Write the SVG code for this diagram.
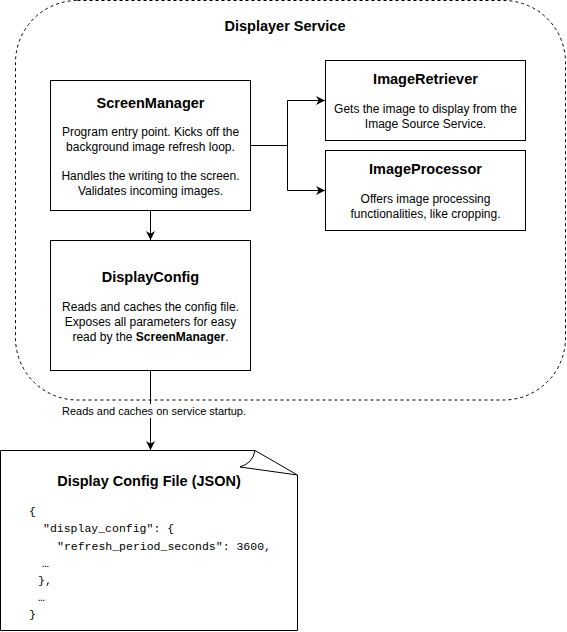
<svg xmlns="http://www.w3.org/2000/svg" width="567" height="632" viewBox="0 0 567 632">
<style>
.box{fill:#fff;stroke:#000;stroke-width:1}
.t{font-family:"Liberation Sans",Arial,sans-serif;font-size:14.5px;font-weight:bold;fill:#000;text-anchor:middle}
.b{font-family:"Liberation Sans",Arial,sans-serif;font-size:12px;fill:#000;text-anchor:middle}
.m{font-family:"Liberation Mono","Courier New",monospace;font-size:11.5px;fill:#000;white-space:pre}
.c{fill:none;stroke:#000;stroke-width:1}
</style>
<defs>
<marker id="arr" viewBox="0 0 10 10" refX="10" refY="5" markerWidth="9" markerHeight="9" markerUnits="userSpaceOnUse" orient="auto">
<path d="M0,0 L10,5 L0,10 L3,5 Z" fill="#000"/>
</marker>
</defs>
<g id="displayer-service">
<rect x="15.5" y="0.5" width="550" height="399.5" rx="62" ry="62" fill="#fff" stroke="#000" stroke-dasharray="3,3"/>
<text class="t" x="285" y="31">Displayer Service</text>
</g>
<g id="connectors">
<polyline class="c" points="250,145.5 287.5,145.5 287.5,100.5 325,100.5" marker-end="url(#arr)"/>
<polyline class="c" points="287.5,145.5 287.5,190.5 325,190.5" marker-end="url(#arr)"/>
<line class="c" x1="150.5" y1="210" x2="150.5" y2="240" marker-end="url(#arr)"/>
<line class="c" x1="150.5" y1="370" x2="150.5" y2="450" marker-end="url(#arr)"/>
<rect x="60" y="404" width="190" height="14" fill="#fff"/>
<text x="154" y="415" style="font-family:'Liberation Sans',Arial,sans-serif;font-size:11px;text-anchor:middle">Reads and caches on service startup.</text>
</g>
<g id="screen-manager">
<rect class="box" x="50.5" y="80.5" width="200" height="130"/>
<text class="t" x="150.5" y="108">ScreenManager</text>
<text class="b" x="150.5" y="136">Program entry point. Kicks off the</text>
<text class="b" x="150.5" y="151">background image refresh loop.</text>
<text class="b" x="150.5" y="180">Handles the writing to the screen.</text>
<text class="b" x="150.5" y="195">Validates incoming images.</text>
</g>
<g id="image-retriever">
<rect class="box" x="325.5" y="60.5" width="200" height="80"/>
<text class="t" x="425.5" y="84">ImageRetriever</text>
<text class="b" x="425.5" y="113">Gets the image to display from the</text>
<text class="b" x="425.5" y="128">Image Source Service.</text>
</g>
<g id="image-processor">
<rect class="box" x="325.5" y="150.5" width="200" height="80"/>
<text class="t" x="425.5" y="174">ImageProcessor</text>
<text class="b" x="425.5" y="203">Offers image processing</text>
<text class="b" x="425.5" y="218">functionalities, like cropping.</text>
</g>
<g id="display-config">
<rect class="box" x="50.5" y="240.5" width="200" height="130"/>
<text class="t" x="150.5" y="282">DisplayConfig</text>
<text class="b" x="150.5" y="311">Reads and caches the config file.</text>
<text class="b" x="150.5" y="326">Exposes all parameters for easy</text>
<text class="b" x="150.5" y="341">read by the <tspan font-weight="bold">ScreenManager</tspan>.</text>
</g>
<g id="config-file">
<path d="M0.5,450.5 H255 L297.5,475 V630.5 H0.5 Z" fill="#fff" stroke="#000"/>
<path d="M255,450.5 Q253,463 240,467 L297.5,475" fill="none" stroke="#000"/>
<text class="t" x="149" y="486">Display Config File (JSON)</text>
<text class="m" x="29" y="515">{</text>
<text class="m" x="43" y="532">"display_config": {</text>
<text class="m" x="57" y="550">"refresh_period_seconds": 3600,</text>
<text class="m" x="42" y="567">…</text>
<text class="m" x="38" y="584">},</text>
<text class="m" x="38" y="601">…</text>
<text class="m" x="29" y="618">}</text>
</g>
</svg>
